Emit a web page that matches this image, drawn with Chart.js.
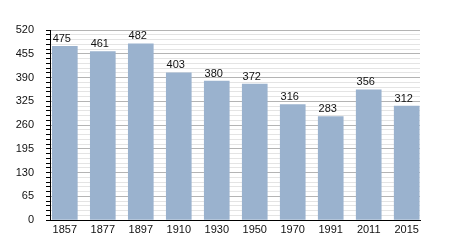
<!DOCTYPE html>
<html>
<head>
<meta charset="utf-8">
<script src="https://cdn.jsdelivr.net/npm/chart.js@4/dist/chart.umd.min.js"></script>
<style>
  html, body { margin: 0; padding: 0; background: #fff; }
  #wrap { width: 450px; height: 250px; }
</style>
</head>
<body>
<div id="wrap"><canvas id="popChart"></canvas></div>
<script>
// census years and population values
const years = ['1857', '1877', '1897', '1910', '1930', '1950', '1970', '1991', '2011', '2015'];
const population = [475, 461, 482, 403, 380, 372, 316, 283, 356, 312];
const yTicks = [0, 65, 130, 195, 260, 325, 390, 455, 520];

const FONT = { family: "'Liberation Sans', Arial, sans-serif", size: 11 };

// draws the value above each bar
const valueLabels = {
    id: 'valueLabels',
    afterDatasetsDraw(chart) {
        const ctx = chart.ctx;
        const meta = chart.getDatasetMeta(0);
        ctx.save();
        ctx.font = FONT.size + 'px ' + FONT.family;
        ctx.fillStyle = '#111';
        ctx.textAlign = 'center';
        ctx.textBaseline = 'bottom';
        meta.data.forEach((bar, i) => {
            ctx.fillText(population[i], bar.x - 3, bar.y - 2);
        });
        ctx.restore();
    }
};

const ctx = document.getElementById('popChart').getContext('2d');
new Chart(ctx, {
    type: 'bar',
    data: {
        datasets: [{
            data: population.map((v, i) => ({ x: i, y: v })),
            backgroundColor: 'rgb(154, 178, 206)',
            borderWidth: 0,
            barThickness: 25
        }]
    },
    options: {
        responsive: true,
        maintainAspectRatio: false,
        animation: false,
        layout: { padding: { top: 30, right: 30, left: 0, bottom: 0 } },
        plugins: {
            legend: { display: false },
            tooltip: { enabled: false }
        },
        scales: {
            x: {
                type: 'linear',
                offset: false,
                min: -0.39,
                max: 9.35,
                afterFit: (scale) => { scale.height = 30; },
                grid: { display: false, drawTicks: false, offset: false },
                border: { color: '#000', width: 1 },
                ticks: {
                    stepSize: 1,
                    includeBounds: false,
                    autoSkip: false,
                    maxRotation: 0,
                    padding: 3,
                    color: '#111',
                    font: FONT,
                    callback: (v) => (Number.isInteger(v) && years[v]) ? years[v] : ''
                }
            },
            y: {
                min: 0,
                max: 520,
                afterFit: (scale) => { scale.width = 50; },
                border: { color: '#000', width: 1 },
                grid: {
                    color: (c) => (c.tick && yTicks.includes(c.tick.value)) ? '#b4b4b4' : '#e4e4e4',
                    tickColor: '#000',
                    tickLength: 4
                },
                ticks: {
                    stepSize: 13,
                    autoSkip: false,
                    padding: 12,
                    color: '#111',
                    font: FONT,
                    callback: (v) => yTicks.includes(v) ? v : ''
                }
            }
        }
    },
    plugins: [valueLabels]
});
</script>
</body>
</html>
